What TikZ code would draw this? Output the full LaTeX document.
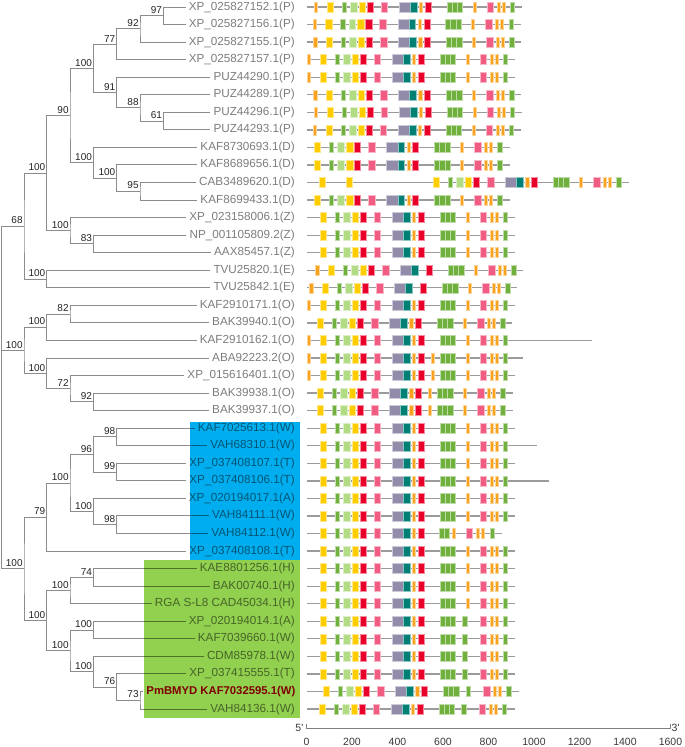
\documentclass[tikz,border=0pt]{standalone}
\usepackage{fontspec}
\setmainfont{Liberation Sans}

\definecolor{labgray}{RGB}{125,125,125}
\definecolor{bsgray}{RGB}{35,35,35}
\definecolor{brgray}{RGB}{140,140,140}
\definecolor{lngray}{RGB}{155,155,155}
\definecolor{hlblue}{RGB}{0,174,239}
\definecolor{hlgreen}{RGB}{146,208,80}
\definecolor{hlred}{RGB}{225,0,0}
\definecolor{mor}{RGB}{248,162,30}
\definecolor{myel}{RGB}{255,204,0}
\definecolor{mgrn}{RGB}{112,176,60}
\definecolor{mlgr}{RGB}{178,220,132}
\definecolor{mred}{RGB}{232,0,42}
\definecolor{mpnk}{RGB}{240,92,130}
\definecolor{mgry}{RGB}{146,140,170}
\definecolor{mtea}{RGB}{0,128,116}

\newcommand{\motif}[3]{\path[mbox,fill=#1,draw=#1!45!white] (#2,-.285) rectangle (#3,.285);}
\newcommand{\genehead}{%
  \motif{myel}{19.8}{26.2}\motif{mgrn}{34.8}{39.2}\motif{mlgr}{43.2}{50}%
  \motif{myel}{51.8}{58.3}\motif{mred}{60}{66.2}\motif{mpnk}{73.8}{80.6}%
  \motif{mgry}{92.2}{103.3}\motif{mtea}{103.3}{110}\motif{mred}{118.2}{124.2}}
\newcommand{\genetail}{%
  \motif{mgrn}{140}{145}\motif{mgrn}{145}{150.3}\motif{mgrn}{150.3}{155.6}%
  \motif{mpnk}{179.8}{186.7}\motif{mor}{189.8}{193}\motif{mor}{194.8}{198}%
  \motif{mgrn}{203.2}{207.5}}
\newcommand{\clade}[6]{%
  \coordinate (#1) at (#2,#3);
  \node[bs] (#1-bs) at (#1) {#4};
  \draw[branch] (#5) -| (#1) |- (#6);}

\begin{document}
\begin{tikzpicture}[
  x=1pt,y=-17.55pt,
  leaf/.style={anchor=east,inner xsep=3pt,inner ysep=0pt,text=labgray,
               font=\fontsize{11.7}{12}\selectfont},
  hl/.style={leaf,text=hlred,font=\fontsize{11.3}{12}\selectfont\bfseries},
  bs/.style={anchor=south east,inner xsep=1.2pt,inner ysep=2pt,text=bsgray,
             font=\fontsize{10}{10}\selectfont},
  branch/.style={brgray,line width=1pt},
  gline/.style={lngray,line width=1.3pt},
  mbox/.style={line width=.5pt},
  axis/.style={gray,line width=.8pt},
  axlab/.style={text=bsgray!90,font=\fontsize{10.5}{11}\selectfont},
]
\useasboundingbox (0,0.6011) rectangle (685,43.165);

% leaves
\foreach \i/\name in {1/XP\_025827152.1(P),2/XP\_025827156.1(P),3/XP\_025827155.1(P),
  4/XP\_025827157.1(P),5/PUZ44290.1(P),6/PUZ44289.1(P),7/PUZ44296.1(P),8/PUZ44293.1(P),
  9/KAF8730693.1(D),10/KAF8689656.1(D),11/CAB3489620.1(D),12/KAF8699433.1(D),
  13/XP\_023158006.1(Z),14/NP\_001105809.2(Z),15/AAX85457.1(Z),16/TVU25820.1(E),
  17/TVU25842.1(E),18/KAF2910171.1(O),19/BAK39940.1(O),20/KAF2910162.1(O),
  21/ABA92223.2(O),22/XP\_015616401.1(O),23/BAK39938.1(O),24/BAK39937.1(O),
  25/KAF7025613.1(W),26/VAH68310.1(W),27/XP\_037408107.1(T),28/XP\_037408106.1(T),
  29/XP\_020194017.1(A),30/VAH84111.1(W),31/VAH84112.1(W),32/XP\_037408108.1(T),
  33/KAE8801256.1(H),34/BAK00740.1(H),35/RGA S-L8 CAD45034.1(H),36/XP\_020194014.1(A),
  37/KAF7039660.1(W),38/CDM85978.1(W),39/XP\_037415555.1(T),41/VAH84136.1(W)}
  \node[leaf] (r\i) at (298,\i) {\name};
\node[hl] (r40) at (298.5,40) {PmBMYD KAF7032595.1(W)};

% tree
\clade{n97}{163.3}{1.5}{97}{r1.west}{r2.west}
\clade{n92}{140}{2.25}{92}{n97}{r3.west}
\clade{n77}{116.7}{3.125}{77}{n92}{r4.west}
\clade{n61}{163.3}{7.5}{61}{r7.west}{r8.west}
\clade{n88}{140}{6.75}{88}{r6.west}{n61}
\clade{n91}{116.7}{5.875}{91}{r5.west}{n88}
\clade{n100a}{93.3}{4.5}{100}{n77}{n91}
\clade{n95}{140}{11.5}{95}{r11.west}{r12.west}
\clade{n100c}{116.7}{10.75}{100}{r10.west}{n95}
\clade{n100b}{93.3}{9.875}{100}{r9.west}{n100c}
\clade{n90}{70}{7.1875}{90}{n100a}{n100b}
\clade{n83}{93.3}{14.5}{83}{r14.west}{r15.west}
\clade{n100z}{70}{13.75}{100}{r13.west}{n83}
\clade{n100d}{46.7}{10.469}{100}{n90}{n100z}
\clade{n100e}{46.7}{16.5}{100}{r16.west}{r17.west}
\clade{n68}{24}{13.484}{68}{n100d}{n100e}
\clade{n82}{70}{18.5}{82}{r18.west}{r19.west}
\clade{n100o1}{46.7}{19.25}{100}{n82}{r20.west}
\clade{n92o}{93.3}{23.5}{92}{r23.west}{r24.west}
\clade{n72}{70}{22.75}{72}{r22.west}{n92o}
\clade{n100o2}{46.7}{21.875}{100}{r21.west}{n72}
\clade{n100o}{24}{20.5625}{100}{n100o1}{n100o2}
\clade{n98w}{116.7}{25.5}{98}{r25.west}{r26.west}
\clade{n99}{116.7}{27.5}{99}{r27.west}{r28.west}
\clade{n96}{93.3}{26.5}{96}{n98w}{n99}
\clade{n98v}{116.7}{30.5}{98}{r30.west}{r31.west}
\clade{n100t}{93.3}{29.75}{100}{r29.west}{n98v}
\clade{n100b2}{70}{28.125}{100}{n96}{n100t}
\clade{n79}{46.7}{30.0625}{79}{n100b2}{r32.west}
\clade{n74}{93.3}{33.5}{74}{r33.west}{r34.west}
\clade{n100h}{70}{34.25}{100}{n74}{r35.west}
\clade{n100a2}{93.3}{36.5}{100}{r36.west}{r37.west}
\clade{n73}{140}{40.5}{73}{r40.west}{r41.west}
\clade{n76}{116.7}{39.75}{76}{r39.west}{n73}
\clade{n100w}{93.3}{38.875}{100}{r38.west}{n76}
\clade{n100g}{70}{37.6875}{100}{n100a2}{n100w}
\clade{n100hg}{46.7}{35.969}{100}{n100h}{n100g}
\clade{n100r}{24}{33.016}{100}{n79}{n100hg}
\coordinate (root) at (1.7,23.25);
\draw[branch] (n68) -| (root) |- (n100r);
\draw[branch] (root) |- (n100o);

% gene structures
\foreach \i/\sh/\len/\fo/\ft/\fx/\fe in {1/0/215/1/1/0/0,2/-1.3/214/1/1/0/0,
  3/-0.7/214/1/1/0/0,4/-7/207.7/1/1/0/0,5/-7/207.7/1/1/0/0,6/-0.7/214/1/1/0/0,
  7/0/215/1/1/0/0,8/-1/214/1/1/0/0,9/-12.5/202.7/0/1/0/0,10/-12.5/202.7/0/1/0/0,
  11/106.3/321.7/0/1/0/0,12/-12.5/202.7/0/1/0/0,13/-7/208.3/0/1/0/0,
  14/-7/208.3/0/1/0/0,15/-7/208.3/0/1/0/0,16/1.3/216/1/0/0/0,17/-4.7/210.3/1/0/0/0,
  18/-7/207.7/1/1/0/0,19/-9.7/205/0/1/0/0,20/-7/285/1/1/0/0,21/-7/216/1/1/1/0,
  22/-7/208.3/1/1/1/0,23/-9.7/205.7/0/1/1/0,24/-9.7/205.7/0/1/1/0,
  25/-7/208.3/0/1/0/0,26/-7/230/0/1/0/0,27/-7/208.3/0/1/0/0,28/-7/241.7/0/1/0/0,
  29/-7/208.3/0/1/0/0,30/-7/208.3/0/1/0/0,31/-7/195/0/1/0/2,32/-7/208.3/0/1/0/0,
  33/-7/208.3/0/1/0/0,34/-7/208.3/0/1/0/0,35/-7/208.3/0/1/0/0,36/-7/208.3/0/1/0/1,
  37/-7/208.3/0/1/0/1,38/-7/208.3/0/1/0/1,39/-7/208.3/0/1/0/1,
  40/-3.7/212.3/0/1/0/1,41/-8/207.7/0/1/0/1}{
  \draw[gline] (307,\i) -- ++(\len,0);
  \begin{scope}[shift={(307+\sh,\i)}]
    \genehead
    \ifnum\fo=1 \motif{mor}{7.2}{10.5}\fi
    \ifnum\ft=1 \motif{mor}{112.4}{115.6}\fi
    \ifnum\fx=1 \motif{mor}{130.8}{134}\fi
    \ifcase\fe
      \motif{mor}{165.8}{169}\genetail
    \or
      \motif{mgrn}{162.7}{167.3}\genetail
    \or
      \motif{mgrn}{139.3}{144.3}\motif{mgrn}{144.3}{149.3}\motif{mor}{152.5}{155.7}%
      \motif{mpnk}{166}{172.7}\motif{mor}{175.8}{179}\motif{mor}{181.5}{184.7}%
      \motif{mgrn}{190}{194.3}
    \fi
  \end{scope}
}
\begin{scope}[shift={(307,11)}]
  \motif{myel}{12}{18.2}\motif{myel}{39}{45.4}
\end{scope}

% scale
\coordinate (ax0) at (306.5,42.08);
\coordinate (ax1) at (670.5,42.08);
\draw[axis] (ax0) ++(0,-.23) -- (ax0) -- (ax1) -- ++(0,-.23);
\node[axlab,anchor=east,inner xsep=1pt,xshift=-2pt] (five) at (ax0) {5\textquotesingle};
\node[axlab,anchor=west,inner xsep=1pt] (three) at (ax1) {3\textquotesingle};
\foreach \v in {0,200,...,1600}
  \node[axlab] (tick\v) at ({306.5+0.2275*\v},42.88) {\v};

% highlighted groups
\begin{scope}[blend mode=multiply]
  \fill[hlblue] (190,24.63) rectangle (300.3,32.51);
  \fill[hlgreen] (144,32.51) rectangle (300.3,41.53);
\end{scope}
\end{tikzpicture}
\end{document}
